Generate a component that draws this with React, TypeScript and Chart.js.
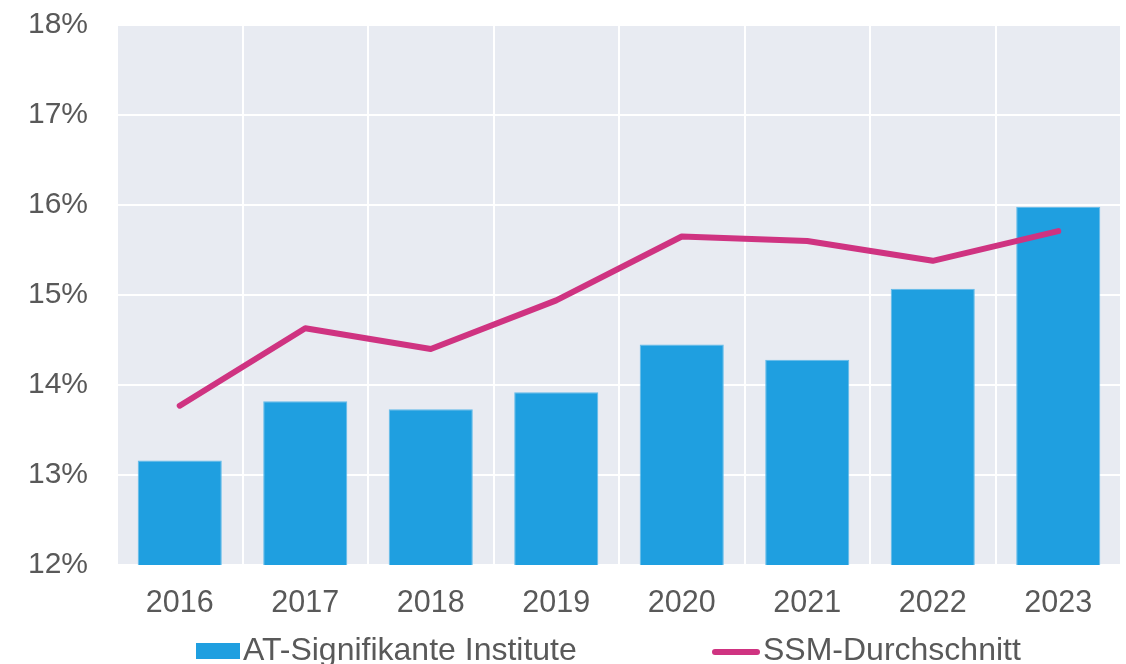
import React, { useEffect, useRef } from "react";
import { Chart, registerables } from "chart.js";

Chart.register(...registerables);

const categories = ["2016", "2017", "2018", "2019", "2020", "2021", "2022", "2023"];
const atSignificant = [13.16, 13.82, 13.73, 13.92, 14.45, 14.28, 15.07, 15.98];
const ssmAverage = [13.77, 14.63, 14.4, 14.94, 15.65, 15.6, 15.38, 15.71];
const yTickMin = 12;
const yTickMax = 18;

const seriesNames = ["AT-Signifikante Institute", "SSM-Durchschnitt"];

const FONT = "'Liberation Sans', Arial, sans-serif";
const TEXT = "#595959";
const BAR = "#1F9FE0";
const LINE = "#CF3381";

const plotBg = {
  id: "plotBg",
  beforeDraw(chart: any) {
    const { ctx, chartArea } = chart;
    ctx.save();
    ctx.fillStyle = "#E8EBF2";
    ctx.fillRect(chartArea.left, chartArea.top, chartArea.right - chartArea.left, chartArea.bottom - chartArea.top);
    ctx.restore();
  },
};

export default function App() {
  const ref = useRef<HTMLCanvasElement>(null);

  useEffect(() => {
    document.body.style.margin = "0";
    document.body.style.overflow = "hidden";
    const chart = new Chart(ref.current as HTMLCanvasElement, {
      type: "bar",
      data: {
        labels: categories,
        datasets: [
          {
            type: "line",
            label: seriesNames[1],
            data: ssmAverage,
            borderColor: LINE,
            backgroundColor: LINE,
            borderWidth: 6,
            pointRadius: 0,
            borderCapStyle: "round",
            borderJoinStyle: "round",
            tension: 0,
            order: 0,
          } as any,
          {
            type: "bar",
            label: seriesNames[0],
            data: atSignificant,
            backgroundColor: BAR,
            borderColor: "#62BBEA",
            borderWidth: 1,
            barPercentage: 0.67,
            categoryPercentage: 1,
            order: 1,
          },
        ],
      },
      options: {
        responsive: false,
        maintainAspectRatio: false,
        animation: false,
        layout: { padding: { top: 25, right: 5, bottom: 39, left: 0 } },
        plugins: {
          legend: { display: false },
          title: { display: false },
          tooltip: { enabled: false },
        },
        scales: {
          x: {
            grid: { color: "#FFFFFF", lineWidth: 2, drawTicks: false, offset: true },
            border: { display: false },
            ticks: { color: TEXT, font: { family: FONT, size: 30.5 }, padding: 20 },
            afterFit(scale: any) {
              scale.height = 60;
              scale.paddingTop = 0;
              scale.paddingBottom = 0;
            },
          },
          y: {
            min: yTickMin,
            max: yTickMax,
            grid: { color: "#FFFFFF", lineWidth: 2, drawTicks: false },
            border: { display: false },
            ticks: {
              stepSize: 1,
              color: TEXT,
              font: { family: FONT, size: 30 },
              padding: 29,
              callback: (v: any) => `${v}%`,
            },
            afterFit(scale: any) {
              scale.width = 117;
              scale.paddingTop = 0;
              scale.paddingBottom = 0;
            },
          },
        },
      },
      plugins: [plotBg],
    });
    return () => chart.destroy();
  }, []);

  const legendText: React.CSSProperties = {
    position: "absolute",
    top: 633,
    fontFamily: FONT,
    fontSize: 32,
    lineHeight: "32px",
    color: TEXT,
    whiteSpace: "nowrap",
  };

  return (
    <div style={{ position: "relative", width: 1126, height: 664, overflow: "hidden", background: "#fff" }}>
      <canvas ref={ref} width={1126} height={664} style={{ display: "block", width: 1126, height: 664 }} />
      <div style={{ position: "absolute", left: 196, top: 643, width: 44, height: 16, background: BAR }} />
      <div style={{ ...legendText, left: 243 }}>{seriesNames[0]}</div>
      <div style={{ position: "absolute", left: 712, top: 649, width: 48, height: 6, borderRadius: 3, background: LINE }} />
      <div style={{ ...legendText, left: 763 }}>{seriesNames[1]}</div>
    </div>
  );
}
